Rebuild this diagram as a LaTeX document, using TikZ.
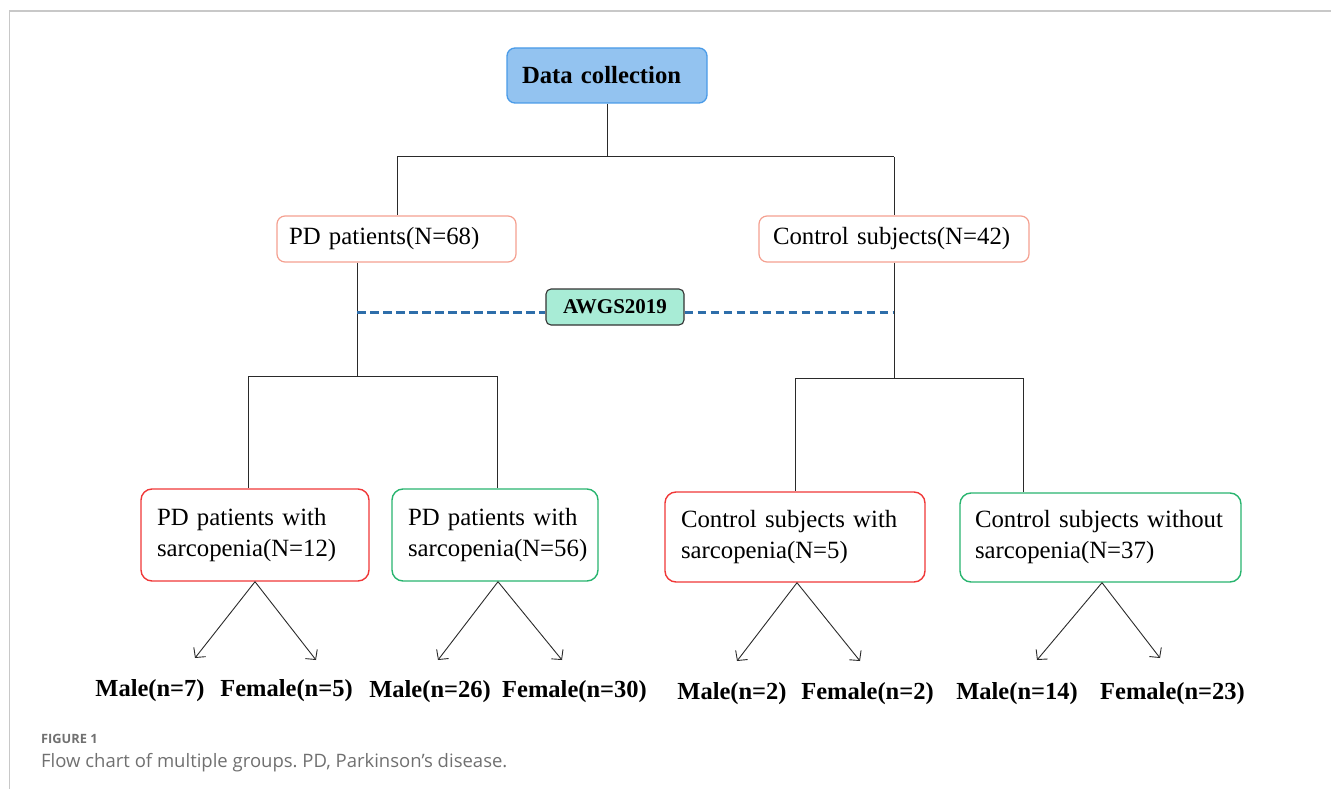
\documentclass[tikz,border=0pt]{standalone}
\usepackage{fontspec}
\setmainfont{Liberation Serif}
\newfontfamily\capfont{Open Sans}
\usetikzlibrary{arrows.meta,calc}
\definecolor{dcfill}{HTML}{93C3F0}
\definecolor{dcdraw}{HTML}{4A9BE8}
\definecolor{awfill}{HTML}{A8ECD6}
\definecolor{awdraw}{HTML}{333333}
\definecolor{salmon}{HTML}{F4A090}
\definecolor{boxred}{HTML}{F03737}
\definecolor{boxgreen}{HTML}{28B46E}
\definecolor{dashblue}{HTML}{2E6EAA}
\definecolor{frame}{HTML}{C8C8C8}
\definecolor{capgray}{HTML}{707070}
\definecolor{linkcol}{HTML}{2A2A2A}
\frenchspacing
\begin{document}
\begin{tikzpicture}[x=1pt,y=-1pt,
  txt/.style={font=\fontsize{24.8}{31}\selectfont},
  boldtxt/.style={font=\fontsize{24.5}{30}\selectfont\bfseries},
  dcbox/.style={draw=dcdraw, fill=dcfill, line width=1.3pt, rounded corners=8pt,
    font=\fontsize{24.7}{30}\selectfont\bfseries, align=left, inner ysep=0pt},
  awbox/.style={draw=awdraw, fill=awfill, line width=1.1pt, rounded corners=5pt,
    font=\fontsize{21}{25}\selectfont\bfseries, inner ysep=0pt},
  groupbox/.style={draw=salmon, line width=1.2pt, rounded corners=8pt, txt,
    align=left, inner ysep=0pt},
  redbox/.style={draw=boxred, line width=1.4pt, rounded corners=11pt, txt,
    align=left, inner ysep=0pt},
  greenbox/.style={draw=boxgreen, line width=1.4pt, rounded corners=11pt, txt,
    align=left, inner ysep=0pt},
  link/.style={draw=linkcol, line width=1pt},
  dashlink/.style={draw=dashblue, line width=3pt, dash pattern=on 8.5pt off 4.5pt},
  arr/.style={draw=linkcol, line width=0.9pt, -{Straight Barb[length=7pt,width=15pt]}},
  framestyle/.style={draw=frame}
]
\useasboundingbox (0,0) rectangle (1331,789);
% frame
\draw[framestyle, line width=2pt] (9,11.5) -- (1331,11.5);
\draw[framestyle, line width=1.2pt] (9.5,11) -- (9.5,789);

% nodes
\node[dcbox, minimum width=200, minimum height=55, text width=170, inner xsep=15] (dc) at (607,75.5) {Data collection};
\node[groupbox, minimum width=239, minimum height=46, text width=215, inner xsep=12] (pd) at (396.5,239) {PD patients(N=68)};
\node[groupbox, minimum width=270, minimum height=46, text width=242, inner xsep=14] (ctrl) at (894,239) {Control subjects(N=42)};
\node[awbox, minimum width=138, minimum height=36] (aw) at (615,307) {AWGS2019};

\node[redbox, minimum width=228, minimum height=92, text width=196, inner xsep=16] (b1) at (255,535) {PD patients with\\sarcopenia(N=12)};
\node[greenbox, minimum width=206, minimum height=92, text width=174, inner xsep=16] (b2) at (495,535) {PD patients with\\sarcopenia(N=56)};
\node[redbox, minimum width=260, minimum height=90, text width=228, inner xsep=16] (b3) at (795,537) {Control subjects with\\sarcopenia(N=5)};
\node[greenbox, minimum width=281, minimum height=89, text width=251, inner xsep=15] (b4) at (1100.5,537.5) {Control subjects without\\sarcopenia(N=37)};

\node[boldtxt] (m1) at (150,691) {Male(n=7)};
\node[boldtxt] (f1) at (286.5,691) {Female(n=5)};
\node[boldtxt] (m2) at (430,692) {Male(n=26)};
\node[boldtxt] (f2) at (574.5,692) {Female(n=30)};
\node[boldtxt] (m3) at (732,694) {Male(n=2)};
\node[boldtxt] (f3) at (867.5,694) {Female(n=2)};
\node[boldtxt] (m4) at (1017,694) {Male(n=14)};
\node[boldtxt] (f4) at (1172.5,694) {Female(n=23)};

% caption
\node[font=\capfont\fontsize{12.8}{16}\selectfont\bfseries, text=capgray, anchor=base west, inner sep=0pt] (figlabel) at (41,743) {FIGURE 1};
\node[font=\capfont\fontsize{18.5}{22}\selectfont, text=capgray, anchor=base west, inner sep=0pt] (caption) at (41,767) {Flow chart of multiple groups. PD, Parkinson’s disease.};

% coordinates
\coordinate (j0) at (607,157);
\coordinate (jL) at (397,157);
\coordinate (jR) at (894,157);
\coordinate (pL) at (357,376);
\coordinate (hl1) at (248,376);
\coordinate (hl2) at (497,376);
\coordinate (cR) at (894,378);
\coordinate (hr1) at (795,378);
\coordinate (hr2) at (1023,378);
\coordinate (dl) at (357,312);
\coordinate (dr) at (893,312);

% connectors
\draw[link] (dc.south) -- (j0);
\draw[link] (jL) -- (jR);
\draw[link] (jL) -- (jL |- pd.north);
\draw[link] (jR) -- (ctrl.north);
\draw[link] (pL |- pd.south) -- (pL);
\draw[link] (hl1) -- (hl2);
\draw[link] (hl1) -- (hl1 |- b1.north);
\draw[link] (hl2) -- (hl2 |- b2.north);
\draw[link] (ctrl.south) -- (cR);
\draw[link] (hr1) -- (hr2);
\draw[link] (hr1) -- (hr1 |- b3.north);
\draw[link] (hr2) -- (hr2 |- b4.north);

\draw[dashlink] (dl) -- (dl -| aw.west);
\draw[dashlink] (aw.east |- dr) -- (dr);

% arrows
\coordinate (a11) at (195,658);
\coordinate (a12) at (316,660);
\coordinate (a21) at (438,660);
\coordinate (a22) at (562,660);
\coordinate (a31) at (737,661);
\coordinate (a32) at (860,661);
\coordinate (a41) at (1037,660);
\coordinate (a42) at (1160,658);
\draw[arr] (b1.south) -- (a11);
\draw[arr] (b1.south) -- (a12);
\draw[arr] ([xshift=3pt]b2.south) -- (a21);
\draw[arr] ([xshift=3pt]b2.south) -- (a22);
\draw[arr] ([xshift=2pt]b3.south) -- (a31);
\draw[arr] ([xshift=2pt]b3.south) -- (a32);
\draw[arr] ([xshift=1.5pt]b4.south) -- (a41);
\draw[arr] ([xshift=1.5pt]b4.south) -- (a42);
\end{tikzpicture}
\end{document}
